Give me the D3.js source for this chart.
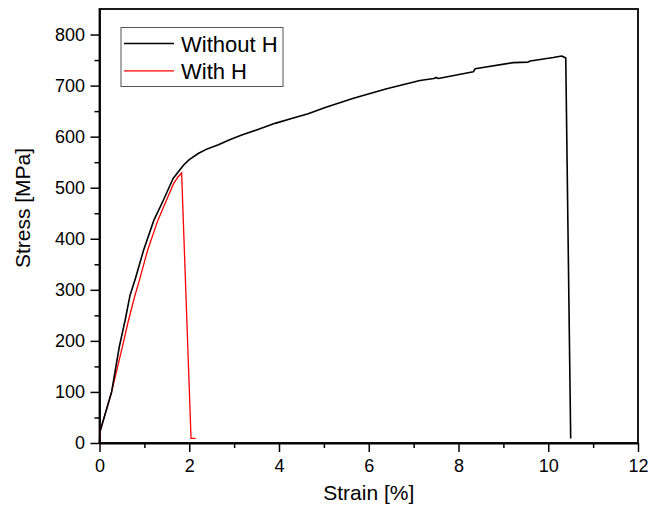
<!DOCTYPE html>
<html>
<head>
<meta charset="utf-8">
<title>Stress Strain</title>
<script src="https://cdnjs.cloudflare.com/ajax/libs/d3/7.8.5/d3.min.js"></script>
<style>
  body { margin: 0; background: #fff; }
  text { font-family: "Liberation Sans", Arial, sans-serif; fill: #000; }
</style>
</head>
<body>
<div id="chart"></div>
<script>
// curves: strain [%] / stress [MPa]
var withoutStrain = [0, 0.01, 0.27, 0.44, 0.57, 0.68, 0.8, 0.98, 1.21, 1.42, 1.64, 1.87, 2.0, 2.2, 2.4, 2.65, 2.9, 3.17, 3.5, 3.91, 4.3, 4.65, 5.03, 5.66, 6.4, 7.14, 7.45, 7.5, 7.55, 8.33, 8.37, 9.22, 9.55, 9.6, 10.11, 10.3, 10.39, 10.5];
var withoutStress = [0, 22, 100, 188, 240, 289, 322, 377, 436, 475, 518, 544, 555, 567, 576, 584, 594, 603, 613, 626, 636, 645, 657, 675, 694, 710, 714, 716, 714, 727, 733, 745, 746, 748, 755, 758, 754, 9];

var withStrain = [0, 0.01, 0.27, 0.5, 0.64, 0.78, 0.89, 1.07, 1.3, 1.48, 1.65, 1.75, 1.83, 2.04, 2.14];
var withStress = [0, 22, 100, 185, 238, 286, 319, 377, 436, 473, 508, 521, 529, 9, 9];

var seriesNames = ["Without H", "With H"];
var seriesColors = ["#000000", "#ff0000"];

var xTicks = [0, 2, 4, 6, 8, 10, 12];
var xMinor = [1, 3, 5, 7, 9, 11];
var yTicks = [0, 100, 200, 300, 400, 500, 600, 700, 800];
var yMinor = [50, 150, 250, 350, 450, 550, 650, 750];

var W = 650, H = 516;
var m = {left: 99.5, top: 9, right: 12, bottom: 73};

var svg = d3.select("#chart").append("svg")
    .attr("width", W).attr("height", H);

var x = d3.scaleLinear().domain([0, 12]).range([m.left, W - m.right]);
var y = d3.scaleLinear().domain([0, 850]).range([H - m.bottom, m.top]);

// minor ticks first
svg.append("g")
    .attr("transform", "translate(0," + y(0) + ")")
    .call(d3.axisBottom(x).tickValues(xMinor).tickSize(5).tickFormat(""))
    .call(function(g) { g.select(".domain").remove(); });
svg.append("g")
    .attr("transform", "translate(" + x(0) + ",0)")
    .call(d3.axisLeft(y).tickValues(yMinor).tickSize(5).tickFormat(""))
    .call(function(g) { g.select(".domain").remove(); });

var xAxis = svg.append("g")
    .attr("transform", "translate(0," + y(0) + ")")
    .call(d3.axisBottom(x).tickValues(xTicks).tickSize(9).tickPadding(7).tickSizeOuter(0));
var yAxis = svg.append("g")
    .attr("transform", "translate(" + x(0) + ",0)")
    .call(d3.axisLeft(y).tickValues(yTicks).tickSize(9).tickPadding(5.5).tickSizeOuter(0));

svg.selectAll(".tick line").attr("stroke", "#000").attr("stroke-width", 1.5);
svg.selectAll(".tick text").style("font-size", "18px").style("font-family", "'Liberation Sans', Arial, sans-serif");
svg.selectAll(".domain").attr("stroke", "#000").attr("stroke-width", 1.8);

// frame: top and right
svg.append("rect")
    .attr("x", x(0)).attr("y", y(850))
    .attr("width", x(12) - x(0)).attr("height", y(0) - y(850))
    .attr("fill", "none").attr("stroke", "#000").attr("stroke-width", 1.8);

// curves
var line = d3.line().x(function(d) { return x(d[0]); }).y(function(d) { return y(d[1]); });

var curves = [
  d3.zip(withoutStrain, withoutStress),
  d3.zip(withStrain, withStress)
];

svg.append("path").datum(curves[1])
    .attr("d", line).attr("fill", "none")
    .attr("stroke", seriesColors[1]).attr("stroke-width", 1.3);
svg.append("path").datum(curves[0])
    .attr("d", line).attr("fill", "none")
    .attr("stroke", seriesColors[0]).attr("stroke-width", 1.6)
    .attr("stroke-linejoin", "round");

// axis titles
svg.append("text")
    .attr("x", (x(0) + x(12)) / 2).attr("y", 500)
    .attr("text-anchor", "middle")
    .style("font-size", "21px")
    .text("Strain [%]");
svg.append("text")
    .attr("transform", "translate(30,208) rotate(-90)")
    .attr("text-anchor", "middle")
    .style("font-size", "21px")
    .text("Stress [MPa]");

// legend
var lg = svg.append("g");
lg.append("rect")
    .attr("x", 121).attr("y", 27.5).attr("width", 162).attr("height", 59)
    .attr("fill", "#fff").attr("stroke", "#555").attr("stroke-width", 1);
seriesNames.forEach(function(name, i) {
  var ly = 43.5 + i * 27.3;
  lg.append("line")
      .attr("x1", 124).attr("x2", 174).attr("y1", ly).attr("y2", ly)
      .attr("stroke", seriesColors[i]).attr("stroke-width", 1.3);
  lg.append("text")
      .attr("x", 181).attr("y", ly + 8)
      .style("font-size", "22px")
      .text(name);
});
</script>
</body>
</html>
